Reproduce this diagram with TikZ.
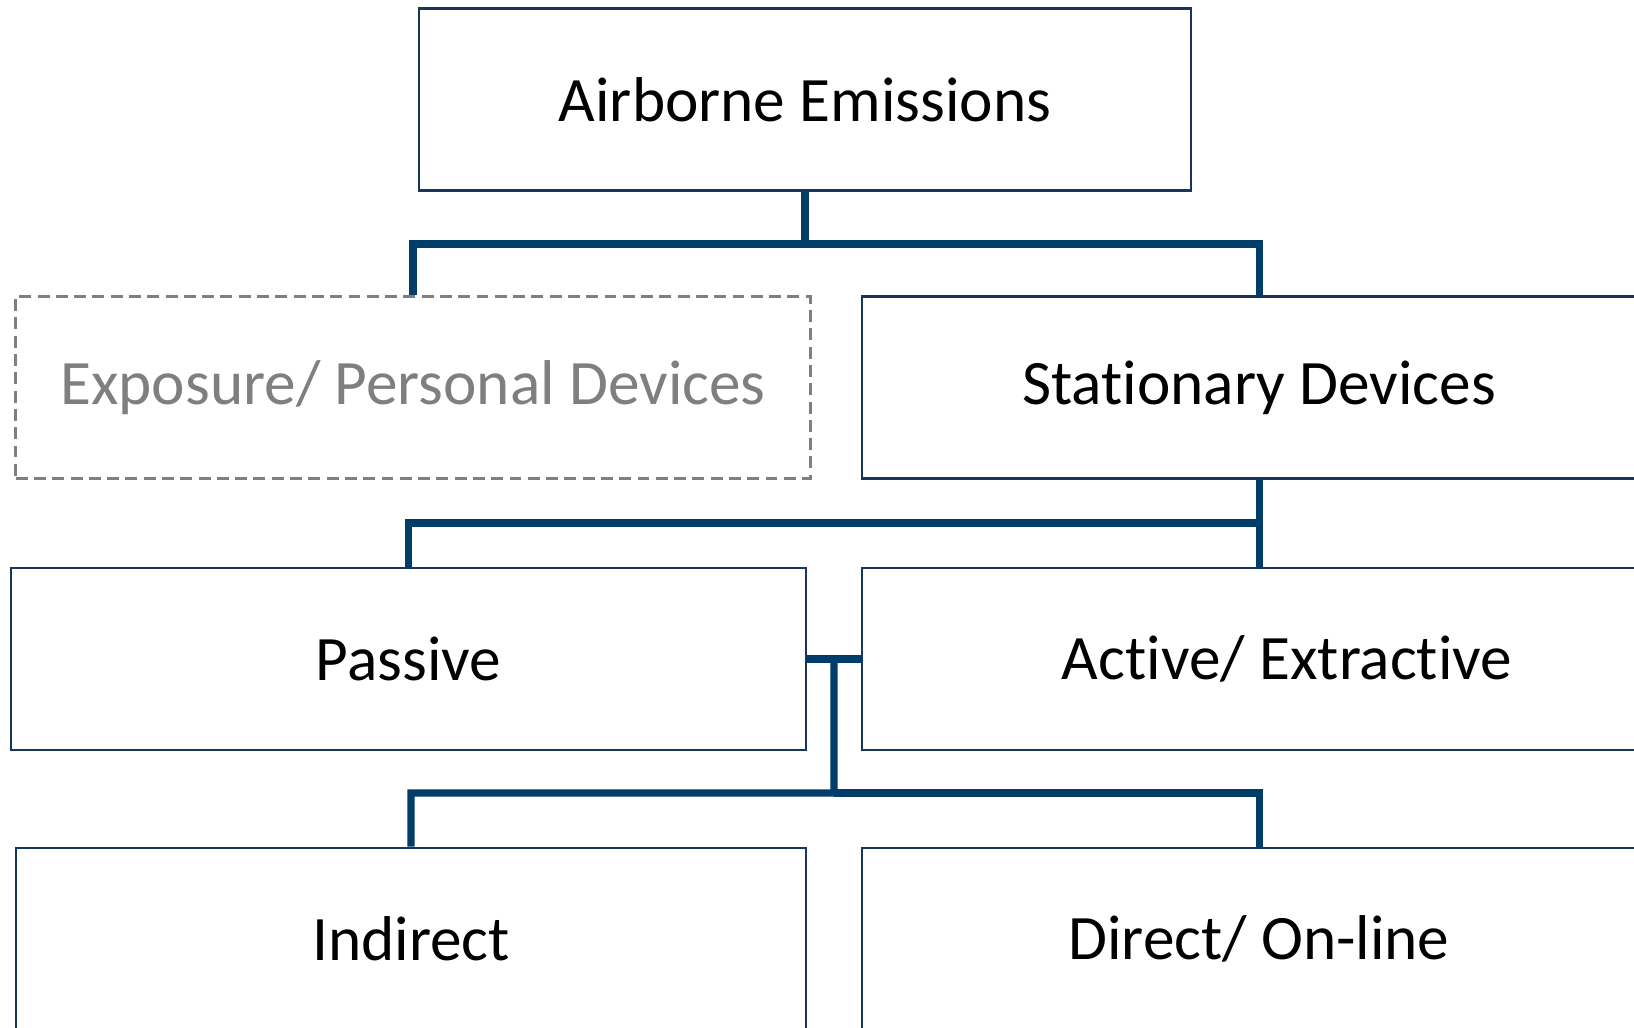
\documentclass[tikz,border=0pt]{standalone}
\usepackage{fontspec}
\setmainfont{Carlito}[Ligatures=NoCommon]
\usetikzlibrary{calc}

\definecolor{boxline}{RGB}{23,54,93}
\definecolor{linkblue}{RGB}{0,61,104}
\definecolor{fadegray}{RGB}{127,127,127}

\begin{document}
\begin{tikzpicture}[x=0.01cm, y=-0.01cm,
    box/.style={draw=boxline, line width=0.7pt, fill=white, inner sep=0pt,
      minimum height=1.82cm, font=\fontsize{18}{21}\selectfont},
    ghostbox/.style={box, draw=fadegray, dashed, dash pattern=on 3.4pt off 1.8pt,
      line width=0.9pt, text=fadegray},
    link/.style={draw=linkblue, line width=2pt}]
                % Define the page
                \clip (0,0) rectangle (1634,1027);

                % Draw the boxes
                \node[box, minimum width=7.72cm] (air) at (805,99.5) {Airborne Emissions};
                \node[ghostbox, minimum width=7.94cm] (expo) at (413,387.5) {Exposure/ Personal Devices};
                \node[box, minimum width=7.94cm] (stat) at (1259,387.5) {Stationary Devices};
                \node[box, minimum width=7.95cm] (pass) at (408.5,659) {Passive};
                \node[box, minimum width=8.5cm] (act) at (1287,659) {Active/ Extractive};
                \node[box, minimum width=7.9cm] (ind) at (411,939) {Indirect};
                \node[box, minimum width=7.94cm] (dir) at (1259,939) {Direct/ On-line};

                % Define the bus coordinates
                \coordinate (busA) at (805,244);
                \coordinate (busB) at (1259,523);
                \coordinate (tee) at ($(pass.east)!0.5!(act.west)$);
                \coordinate (busC) at (834,793);

                % Draw the first level
                \draw[link] (air.south) -- (busA) -| (expo.north);
                \draw[link] (busA) -| (stat.north);

                % Draw the second level
                \draw[link] (stat.south) -- (stat.south |- act.north);
                \draw[link] (busB) -| (pass.north);

                % Draw the third level
                \draw[link] (pass.east) -- (act.west);
                \draw[link] (tee) -- (busC) -| (ind.north);
                \draw[link] (busC) -| (dir.north);
              \end{tikzpicture}
\end{document}
